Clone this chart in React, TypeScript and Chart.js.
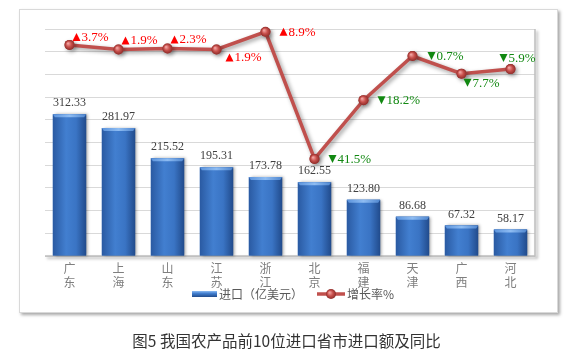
import React, { useEffect, useRef } from 'react';
import { Chart, registerables } from 'chart.js';

Chart.register(...registerables);

// ---- data ----
const provinces: string[][] = [
  ['广', '东'], ['上', '海'], ['山', '东'], ['江', '苏'], ['浙', '江'],
  ['北', '京'], ['福', '建'], ['天', '津'], ['广', '西'], ['河', '北'],
];
const importValues = [312.33, 281.97, 215.52, 195.31, 173.78, 162.55, 123.8, 86.68, 67.32, 58.17];
const growthRates = [3.7, 1.9, 2.3, 1.9, 8.9, -41.5, -18.2, -0.7, -7.7, -5.9];
const seriesNames = ['进口（亿美元）', '增长率%'];
const chartTitle = '图5 我国农产品前10位进口省市进口额及同比';
const importAxisMin = 0;
const importAxisMax = 500;
const importAxisStep = 50;
const growthAxisMin = -80;
const growthAxisMax = 10;

// ---- label placement (style, not data) ----
const growthLabelOffsets: number[][] = [
  [3, -8], [3, -9], [3, -9], [9, 8], [14, 0], [14, 0], [14, 0], [15, 0], [2, 9], [-11, -11],
];

const LINE_COLOR = '#c0504d';

const decorPlugin = {
  id: 'decor',
  beforeDatasetsDraw(chart: any) {
    const { ctx, chartArea } = chart;
    ctx.save();
    ctx.shadowColor = 'rgba(0,0,0,0.35)';
    ctx.shadowBlur = 3;
    ctx.shadowOffsetX = 2;
    ctx.shadowOffsetY = 2;
    ctx.strokeStyle = '#bfbfbf';
    ctx.lineWidth = 1.5;
    ctx.beginPath();
    ctx.moveTo(chartArea.right, chartArea.top);
    ctx.lineTo(chartArea.right, chartArea.bottom);
    ctx.lineTo(chartArea.left, chartArea.bottom);
    ctx.stroke();
    ctx.restore();
  },
  beforeDatasetDraw(chart: any, args: any) {
    if (args.index === 1) {
      const ctx = chart.ctx;
      ctx.save();
      ctx.shadowColor = 'rgba(0,0,0,0.4)';
      ctx.shadowBlur = 4;
      ctx.shadowOffsetX = 2;
      ctx.shadowOffsetY = 2;
    }
  },
  afterDatasetDraw(chart: any, args: any) {
    const ctx = chart.ctx;
    if (args.index === 0) {
      args.meta.data.forEach((el: any) => {
        const { x, y, base, width } = el.getProps(['x', 'y', 'base', 'width'], true);
        const l = x - width / 2;
        const r = x + width / 2;
        ctx.save();
        ctx.shadowColor = 'rgba(0,0,0,0.35)';
        ctx.shadowBlur = 3;
        ctx.shadowOffsetX = 2;
        ctx.shadowOffsetY = 0;
        const g = ctx.createLinearGradient(l, 0, r, 0);
        g.addColorStop(0, '#2a5aa2');
        g.addColorStop(0.4, '#427fd0');
        g.addColorStop(0.7, '#3a74c4');
        g.addColorStop(1, '#214b8c');
        ctx.fillStyle = g;
        ctx.fillRect(l, y, width, base - y);
        ctx.restore();
        ctx.save();
        const bh = 3;
        ctx.beginPath();
        ctx.moveTo(l, y);
        ctx.lineTo(r, y);
        ctx.lineTo(r - 2, y + bh);
        ctx.lineTo(l + 2, y + bh);
        ctx.closePath();
        const bg = ctx.createLinearGradient(l, 0, r, 0);
        bg.addColorStop(0, '#5b93dc');
        bg.addColorStop(0.5, '#8ebcf2');
        bg.addColorStop(1, '#4f86cf');
        ctx.fillStyle = bg;
        ctx.fill();
        ctx.restore();
      });
    } else if (args.index === 1) {
      ctx.restore();
      args.meta.data.forEach((el: any) => {
        const { x, y } = el.getProps(['x', 'y'], true);
        const rg = ctx.createRadialGradient(x - 1.5, y - 1.5, 0.5, x, y, 5);
        rg.addColorStop(0, '#f0a09e');
        rg.addColorStop(0.5, '#c8504c');
        rg.addColorStop(1, '#8e2d2a');
        ctx.save();
        ctx.beginPath();
        ctx.arc(x, y, 5, 0, Math.PI * 2);
        ctx.fillStyle = rg;
        ctx.fill();
        ctx.restore();
      });
    }
  },
  afterDatasetsDraw(chart: any) {
    const ctx = chart.ctx;
    // bar value labels
    const barMeta = chart.getDatasetMeta(0);
    ctx.save();
    ctx.font = '12px "Liberation Serif", "Times New Roman", serif';
    ctx.fillStyle = '#404040';
    ctx.textAlign = 'center';
    ctx.textBaseline = 'middle';
    barMeta.data.forEach((el: any, i: number) => {
      const { x, y } = el.getProps(['x', 'y'], true);
      ctx.fillText(importValues[i].toFixed(2), x, y - 11);
    });
    ctx.restore();

    // growth labels
    const lineMeta = chart.getDatasetMeta(1);
    ctx.save();
    ctx.textAlign = 'left';
    ctx.textBaseline = 'middle';
    lineMeta.data.forEach((el: any, i: number) => {
      const { x, y } = el.getProps(['x', 'y'], true);
      const v = growthRates[i];
      const up = v >= 0;
      const [dx, dy] = growthLabelOffsets[i];
      const sx = x + dx;
      const sy = y + dy;
      ctx.fillStyle = up ? '#ff0000' : '#118811';
      // triangle
      ctx.beginPath();
      if (up) {
        ctx.moveTo(sx, sy + 4);
        ctx.lineTo(sx + 8, sy + 4);
        ctx.lineTo(sx + 4, sy - 4);
      } else {
        ctx.moveTo(sx, sy - 4);
        ctx.lineTo(sx + 8, sy - 4);
        ctx.lineTo(sx + 4, sy + 4);
      }
      ctx.closePath();
      ctx.fill();
      ctx.font = '13px "Liberation Serif", "Times New Roman", serif';
      ctx.fillText(Math.abs(v).toFixed(1) + '%', sx + 9, sy + 0.5);
    });
    ctx.restore();

    // legend
    ctx.save();
    const ly = 294;
    const g = ctx.createLinearGradient(0, ly - 3, 0, ly + 3);
    g.addColorStop(0, '#8ebcf2');
    g.addColorStop(0.4, '#427fd0');
    g.addColorStop(1, '#214b8c');
    ctx.fillStyle = g;
    ctx.fillRect(192, ly - 3, 25, 6);
    ctx.font = '12px "Noto Sans CJK SC", sans-serif';
    ctx.fillStyle = '#595959';
    ctx.textAlign = 'left';
    ctx.textBaseline = 'middle';
    ctx.fillText(seriesNames[0], 219, ly);
    ctx.strokeStyle = LINE_COLOR;
    ctx.lineWidth = 3.5;
    ctx.beginPath();
    ctx.moveTo(317, ly);
    ctx.lineTo(345, ly);
    ctx.stroke();
    const rg = ctx.createRadialGradient(329.5, ly - 1.5, 0.5, 331, ly, 5);
    rg.addColorStop(0, '#f0a09e');
    rg.addColorStop(0.5, '#c8504c');
    rg.addColorStop(1, '#8e2d2a');
    ctx.fillStyle = rg;
    ctx.beginPath();
    ctx.arc(331, ly, 5, 0, Math.PI * 2);
    ctx.fill();
    ctx.fillStyle = '#595959';
    ctx.fillText(seriesNames[1], 347, ly);
    ctx.restore();
  },
};

export default function App() {
  const canvasRef = useRef<HTMLCanvasElement | null>(null);

  useEffect(() => {
    if (!canvasRef.current) return;
    const chart = new Chart(canvasRef.current, {
      type: 'bar',
      data: {
        labels: provinces,
        datasets: [
          {
            type: 'bar',
            label: seriesNames[0],
            data: importValues,
            backgroundColor: '#3a74c4',
            yAxisID: 'y',
            order: 1,
            categoryPercentage: 1,
            barPercentage: 0.68,
          } as any,
          {
            type: 'line',
            label: seriesNames[1],
            data: growthRates,
            borderColor: LINE_COLOR,
            backgroundColor: LINE_COLOR,
            borderWidth: 3.5,
            pointRadius: 5,
            pointBorderWidth: 0,
            pointBackgroundColor: LINE_COLOR,
            tension: 0,
            yAxisID: 'y1',
            order: 0,
          } as any,
        ],
      },
      options: {
        animation: false,
        responsive: false,
        devicePixelRatio: 1,
        layout: { padding: { left: 45, right: 38, top: 29, bottom: 56 } },
        plugins: {
          legend: { display: false },
          tooltip: { enabled: false },
          title: { display: false },
        },
        scales: {
          x: {
            grid: { display: false, drawTicks: false },
            border: { display: false },
            ticks: {
              padding: 5,
              color: '#7f7f7f',
              font: { size: 12, family: '"Noto Sans CJK SC", sans-serif', lineHeight: 1.17 },
              maxRotation: 0,
              autoSkip: false,
            },
            afterFit: (scale: any) => {
              scale.height = 50;
            },
          },
          y: {
            position: 'left',
            min: importAxisMin,
            max: importAxisMax,
            ticks: { display: false, stepSize: importAxisStep },
            grid: { color: '#d9d9d9', lineWidth: 1, drawTicks: false },
            border: { display: false },
            afterFit: (scale: any) => {
              scale.width = 0;
            },
          },
          y1: {
            display: false,
            position: 'right',
            min: growthAxisMin,
            max: growthAxisMax,
          },
        },
      },
      plugins: [decorPlugin],
    });
    return () => chart.destroy();
  }, []);

  return (
    <div style={{ position: 'fixed', left: 0, top: 0, width: 573, height: 362, background: '#fff', overflow: 'hidden' }}>
      <div
        style={{
          position: 'absolute',
          left: 19,
          top: 9,
          width: 539,
          height: 304,
          boxSizing: 'border-box',
          border: '1px solid #d9d9d9',
          boxShadow: '2px 2px 3px rgba(0,0,0,0.35)',
          background: '#fff',
        }}
      />
      <canvas ref={canvasRef} width={573} height={362} style={{ position: 'absolute', left: 0, top: 0 }} />
      <div
        style={{
          position: 'absolute',
          left: 0,
          top: 330,
          width: 573,
          textAlign: 'center',
          fontFamily: '"Noto Sans CJK SC", sans-serif',
          fontSize: '15.5px',
          lineHeight: '20px',
          color: '#333',
        }}
      >
        {chartTitle}
      </div>
    </div>
  );
}
